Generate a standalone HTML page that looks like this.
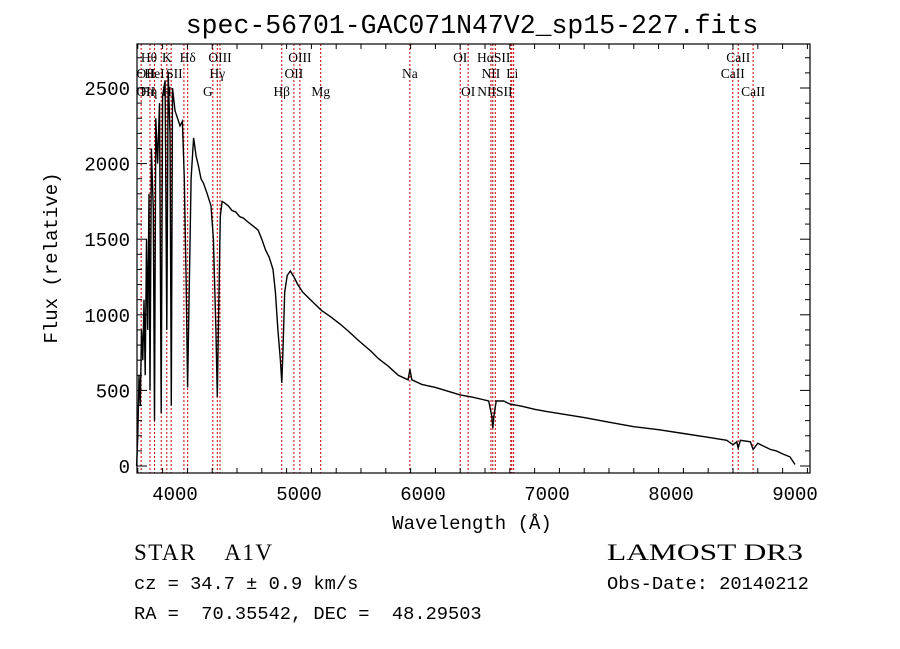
<!DOCTYPE html>
<html><head><meta charset="utf-8">
<style>
html,body{margin:0;padding:0;background:#fff;}
svg{display:block;}
.t{font-family:"Liberation Mono",monospace;fill:#000;}
.s{font-family:"Liberation Serif","DejaVu Serif",serif;fill:#000;}
</style></head>
<body>
<svg id="chart" width="900" height="649" viewBox="0 0 900 649" xmlns="http://www.w3.org/2000/svg">
<rect width="900" height="649" fill="#fff"/>
<text class="t" x="472" y="33" font-size="26.5" text-anchor="middle">spec-56701-GAC071N47V2_sp15-227.fits</text>
<g id="lines"></g>
<g id="spec"></g>
<g id="axes"></g>
<text class="t" x="472" y="529" font-size="19" text-anchor="middle">Wavelength (Å)</text>
<text class="t" transform="translate(57,258) rotate(-90)" font-size="19" text-anchor="middle">Flux (relative)</text>
<text class="s" x="134" y="560" font-size="23" xml:space="preserve" textLength="138" lengthAdjust="spacing">STAR    A1V</text>
<text class="t" x="134" y="589" font-size="18.7">cz = 34.7 ± 0.9 km/s</text>
<text class="t" x="134" y="619" font-size="18.7" xml:space="preserve">RA =  70.35542, DEC =  48.29503</text>
<text class="s" x="607" y="560" font-size="23" textLength="196" lengthAdjust="spacingAndGlyphs">LAMOST DR3</text>
<text class="t" x="607" y="589" font-size="18.7">Obs-Date: 20140212</text>
</svg>
<script>
const wavelengths=[3690,3700,3710,3720,3730,3740,3750,3760,3770,3780,3790,3798,3810,3825,3835,3845,3860,3875,3889,3900,3920,3934,3945,3960,3970,3980,4000,4020,4040,4060,4075,4090,4102,4115,4130,4150,4170,4190,4210,4230,4260,4290,4310,4330,4341,4352,4365,4380,4400,4430,4460,4490,4520,4550,4580,4610,4640,4670,4700,4730,4760,4790,4810,4830,4850,4861,4870,4885,4905,4930,4960,4990,5030,5080,5130,5180,5250,5330,5400,5480,5580,5640,5720,5800,5880,5894,5910,5990,6100,6200,6300,6400,6480,6530,6555,6563,6572,6590,6650,6700,6800,6900,7000,7150,7300,7500,7700,7900,8100,8300,8450,8500,8530,8542,8560,8640,8662,8700,8800,8850,8900,8960,9000];
const fluxes=[0,200,600,400,900,700,1100,600,1500,900,1800,500,2100,1700,300,2300,2000,2400,350,2450,2550,900,2600,2200,400,2500,2350,2300,2250,2280,1900,1200,520,1200,1900,2170,2050,1980,1900,1870,1800,1720,1500,900,456,1000,1650,1750,1740,1720,1690,1680,1650,1640,1620,1600,1580,1560,1500,1430,1380,1300,1150,900,700,550,750,1150,1260,1290,1250,1200,1150,1110,1070,1030,990,940,890,830,760,710,660,600,570,640,570,540,520,495,470,455,440,430,330,250,330,430,430,410,395,375,360,340,320,290,260,240,215,190,170,140,160,120,170,160,110,150,110,100,80,60,10];
const xTicks=[4000,5000,6000,7000,8000,9000];
const yTicks=[0,500,1000,1500,2000,2500];
const lineWaves=[3727,3798,3835,3889,3934,3969,4072,4102,4305,4341,4363,4861,4959,5007,5175,5894,6300,6364,6548,6563,6583,6708,6716,6731,8498,8542,8662];
const labelText=["Hθ","K","Hδ","OIII","OIII","OI","HαSII","CaII","OII","HeI","SII","Hγ","OII","Na","NII","Li","CaII","OII","Hη","H","G","Hβ","Mg","OI","NIISII","CaII"];
const labelWave=[3790,3934,4102,4363,5007,6300,6570,8542,3690,3835,3995,4341,4959,5894,6548,6720,8498,3690,3790,3935,4265,4861,5175,6364,6580,8662];
const labelRow=[0,0,0,0,0,0,0,0,1,1,1,1,1,1,1,1,1,2,2,2,2,2,2,2,2,2];
const X0=137,X1=810,Y0=44,Y1=473;
const xs=w=>175+(w-4000)*0.124;
const ys=f=>466-f*0.1512;
const NS="http://www.w3.org/2000/svg";
function mk(tag,attrs,parent){const e=document.createElementNS(NS,tag);for(const k in attrs)e.setAttribute(k,attrs[k]);parent.appendChild(e);return e;}
const gl=document.getElementById('lines');
lineWaves.forEach(w=>{
  const l=mk('line',{x1:xs(w),x2:xs(w),y1:Y0,y2:Y1,stroke:'#c00000','stroke-width':1,'stroke-dasharray':'2,2'},gl);
  
  
});
const rowY=[62,78,96];
labelText.forEach((t,i)=>{
  const e=mk('text',{x:xs(labelWave[i]),y:rowY[labelRow[i]],'font-size':13.5,class:'s','text-anchor':labelWave[i]<3700?'start':'middle'},gl);
  e.textContent=t;
  
  
});
const gs=document.getElementById('spec');
const p=mk('polyline',{points:wavelengths.map((w,i)=>xs(w).toFixed(1)+','+ys(fluxes[i]).toFixed(1)).join(' '),fill:'none',stroke:'#000','stroke-width':1.4},gs);


const ga=document.getElementById('axes');
const fr=mk('rect',{x:X0,y:Y0,width:X1-X0,height:Y1-Y0,fill:'none',stroke:'#000','stroke-width':1.2},ga);


for(let w=3700;w<=9100;w+=200){
  const x=xs(w); if(x<X0||x>X1)continue;
  const len=(w%1000===0)?10:5;
  mk('line',{x1:x,x2:x,y1:Y1,y2:Y1-len,stroke:'#000'},ga);
  mk('line',{x1:x,x2:x,y1:Y0,y2:Y0+len,stroke:'#000'},ga);
}
for(let f=0;f<=2700;f+=100){
  const y=ys(f); if(y<Y0)continue;
  const len=(f%500===0)?10:5;
  mk('line',{x1:X0,x2:X0+len,y1:y,y2:y,stroke:'#000'},ga);
  mk('line',{x1:X1,x2:X1-len,y1:y,y2:y,stroke:'#000'},ga);
}
xTicks.forEach(w=>{
  const e=mk('text',{x:xs(w),y:500,'font-size':19,class:'t','text-anchor':'middle'},ga);
  e.textContent=w;
  
  
});
yTicks.forEach(f=>{
  const e=mk('text',{x:130,y:ys(f)+7,'font-size':19,class:'t','text-anchor':'end'},ga);
  e.textContent=f;
  
  
});
</script>
</body></html>
